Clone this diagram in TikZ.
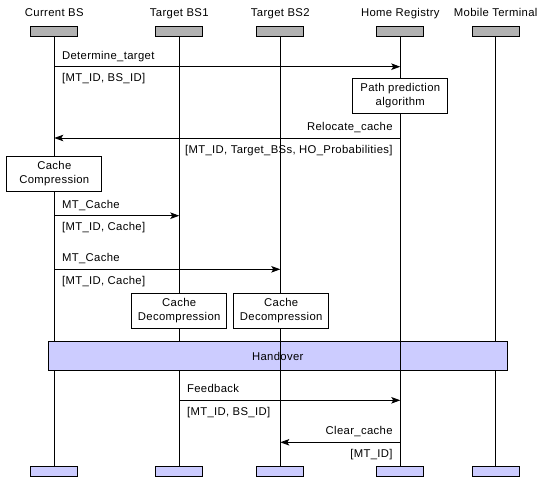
\documentclass[tikz,border=0pt]{standalone}
\usepackage{fontspec}
\setmainfont{Liberation Sans}[LetterSpace=3]
\usetikzlibrary{positioning, arrows.meta}
\definecolor{headc}{RGB}{178,178,178}
\definecolor{footc}{RGB}{204,204,255}

\begin{document}
\begin{tikzpicture}[x=1pt, y=-1pt, font=\fontsize{11.3pt}{14pt}\selectfont, >={Stealth[length=9pt, width=6.5pt, inset=2pt]},
  % lifeline heads and feet
  headbox/.style={draw, fill=headc, line width=0.9pt, minimum width=47pt, minimum height=10pt, inner sep=0pt},
  footbox/.style={headbox, fill=footc},
  life/.style={line width=0.9pt},
  % activity boxes on the lifelines
  actbox/.style={draw, fill=white, line width=0.9pt, align=center, inner sep=0pt, minimum width=95pt, minimum height=35pt},
  msg/.style={->, line width=0.9pt},
  % message labels: above / below the arrow, at its start
  uplab/.style={anchor=base west, inner sep=0pt, xshift=7.3pt, yshift=7.5pt},
  dnlab/.style={anchor=base west, inner sep=0pt, xshift=7.3pt, yshift=-15pt},
  upleft/.style={uplab, anchor=base east, xshift=-14.6pt},
  dnleft/.style={dnlab, anchor=base east, xshift=-14.6pt},
]
\useasboundingbox (0,0) rectangle (549,485);

%% ── lifelines ────────────────────────────────────────────────────
\foreach \n/\x/\lab in {cbs/54.3/Current BS, tbs1/179.3/Target BS1, tbs2/280.3/Target BS2,
                        hr/400.3/Home Registry, mt/495.7/Mobile Terminal}{
  \node[headbox] (\n) at (\x,31) {};
  \node[inner sep=0pt, above=8.7pt of \n, anchor=base] (\n-t) {\lab};
  \node[footbox] (\n-f) at (\x,471.7) {};
  \draw[life] (\n.south) -- (\n-f.north);
}

%% ── activity boxes ──────────────────────────────────────────────
\node[actbox] (pp) at (400.3,95.8) {Path prediction\\algorithm};
\node[actbox] (cc) at (54.3,173.7) {Cache\\Compression};
\node[actbox] (cd1) at (179.2,310.8) {Cache\\Decompression};
\node[actbox] (cd2) at (281.2,310.8) {Cache\\Decompression};

%% ── handover bar (two lifelines run through it) ─────────────────
\node[draw, fill=footc, line width=0.9pt, minimum width=459pt, minimum height=28.6pt, inner sep=0pt]
  (ho) at (277.8,356) {Handover};
\draw[life] (ho.north -| tbs2) -- (ho.south -| tbs2);
\draw[life] (ho.north -| hr) -- (ho.south -| hr);

%% ── messages ─────────────────────────────────────────────────────
\foreach \i/\a/\b/\y in {1/cbs/hr/66.7, 2/hr/cbs/138, 3/cbs/tbs1/215.7, 4/cbs/tbs2/269.3,
                         5/tbs1/hr/400.3, 6/hr/tbs2/442.3}{
  \coordinate (m\i a) at (\a |- 0,\y);
  \coordinate (m\i b) at (\b |- 0,\y);
}
\draw[msg] (m1a) -- (m1b) node[pos=0, uplab] (l1u) {Determine\_target} node[pos=0, dnlab] (l1d) {[MT\_ID, BS\_ID]};
\draw[msg] (m2a) -- (m2b) node[pos=0, upleft] (l2u) {Relocate\_cache} node[pos=0, dnleft] (l2d) {[MT\_ID, Target\_BSs, HO\_Probabilities]};
\draw[msg] (m3a) -- (m3b) node[pos=0, uplab] (l3u) {MT\_Cache} node[pos=0, dnlab] (l3d) {[MT\_ID, Cache]};
\draw[msg] (m4a) -- (m4b) node[pos=0, uplab] (l4u) {MT\_Cache} node[pos=0, dnlab] (l4d) {[MT\_ID, Cache]};
\draw[msg] (m5a) -- (m5b) node[pos=0, uplab] (l5u) {Feedback} node[pos=0, dnlab] (l5d) {[MT\_ID, BS\_ID]};
\draw[msg] (m6a) -- (m6b) node[pos=0, upleft] (l6u) {Clear\_cache} node[pos=0, dnleft] (l6d) {[MT\_ID]};

\end{tikzpicture}
\end{document}
